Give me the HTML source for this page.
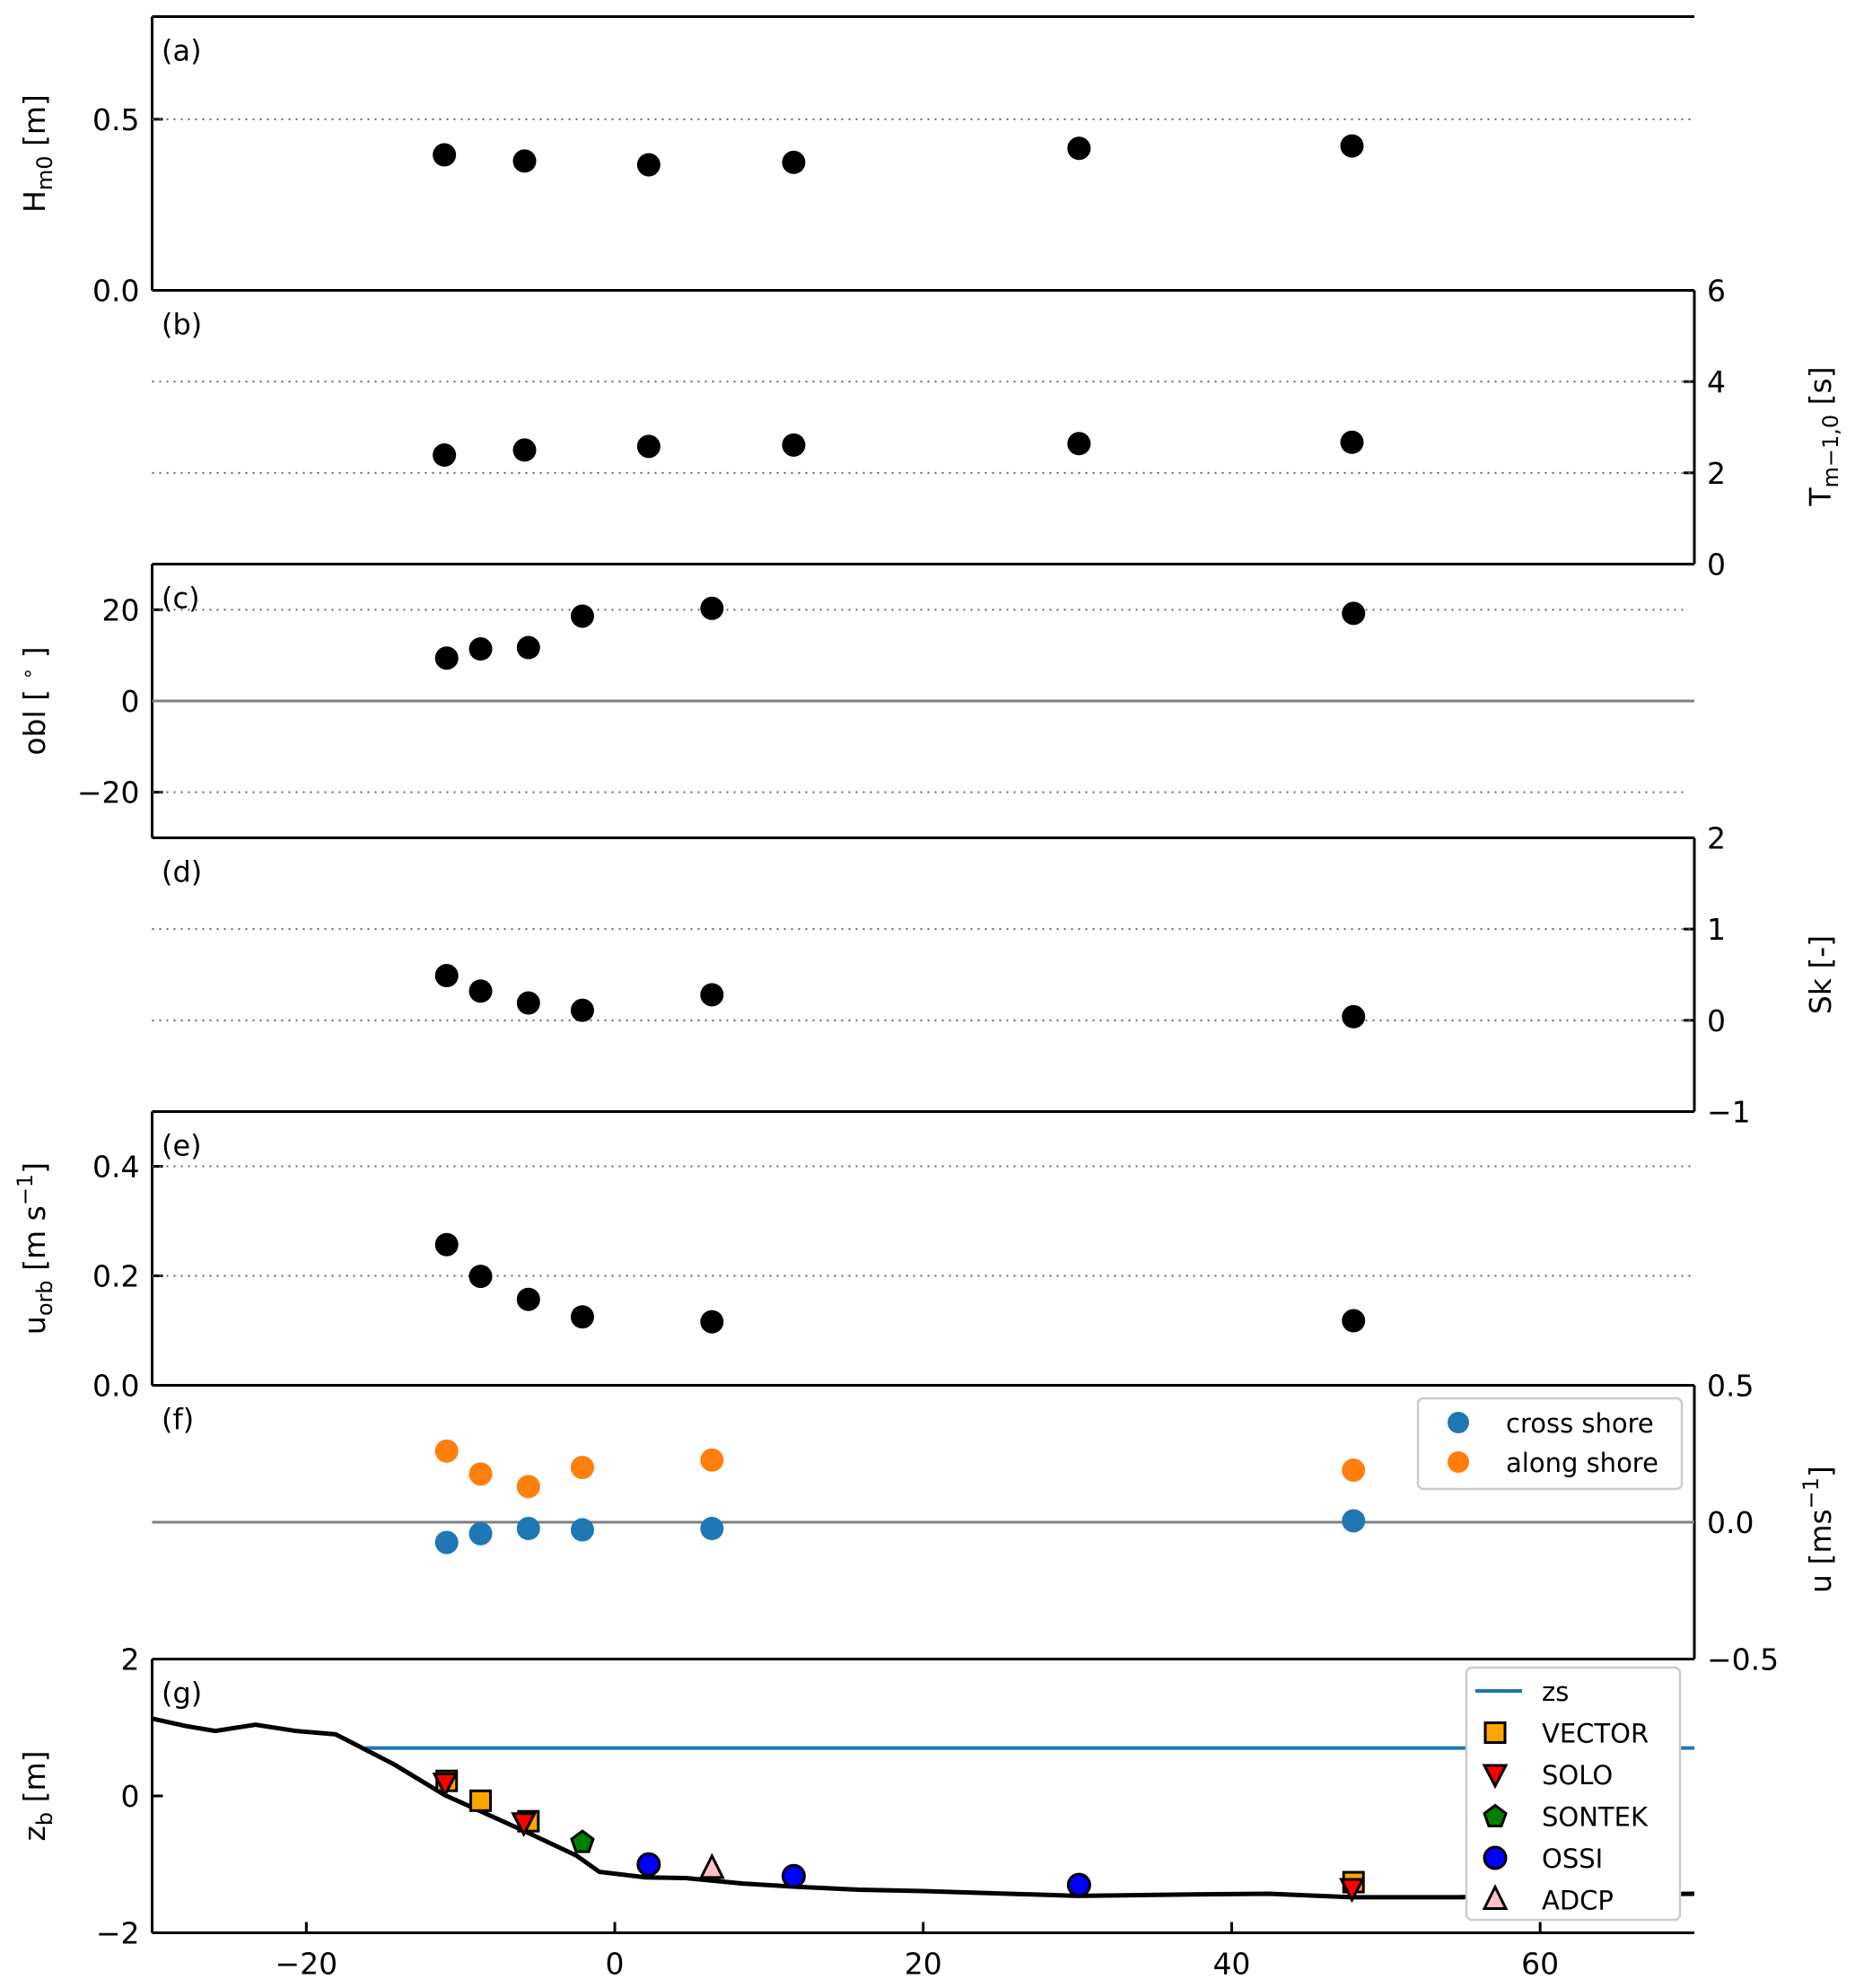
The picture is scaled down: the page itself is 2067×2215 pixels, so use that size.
<!DOCTYPE html>
<html><head><meta charset="utf-8"><style>
html,body{margin:0;padding:0;background:#fff;}
svg{display:block;font-family:"DejaVu Sans","Liberation Sans",sans-serif;}
</style></head><body>
<svg id="fig" width="2067" height="2215" viewBox="0 0 2067 2215" xmlns="http://www.w3.org/2000/svg"></svg>
<script>
// ---- data ----
const xWave = [-11.05, -5.85, 2.2, 11.6, 30.1, 47.8];
const hm0 = [0.396, 0.378, 0.367, 0.374, 0.415, 0.422];
const tm10 = [2.39, 2.5, 2.58, 2.61, 2.64, 2.67];
const xVel = [-10.9, -8.7, -5.6, -2.1, 6.3, 47.9];
const obl = [9.4, 11.4, 11.7, 18.6, 20.3, 19.2];
const skew = [0.49, 0.32, 0.19, 0.11, 0.28, 0.04];
const uorb = [0.257, 0.199, 0.157, 0.125, 0.116, 0.118];
const uCross = [-0.074, -0.042, -0.023, -0.028, -0.023, 0.005];
const uAlong = [0.26, 0.176, 0.13, 0.2, 0.227, 0.19];
const bedX = [-30,-27.8,-25.9,-23.3,-20.7,-18.1,-14.3,-11.0,-5.8,-2.5,-1.0,2.0,4.6,8.3,12,15.8,20,30,37.4,42.4,47.8,54.7,60,65,70];
const bedZ = [1.13,1.02,0.95,1.04,0.95,0.9,0.46,0.01,-0.52,-0.87,-1.11,-1.19,-1.2,-1.28,-1.33,-1.37,-1.39,-1.46,-1.44,-1.43,-1.48,-1.48,-1.46,-1.44,-1.43];
const zsLevel = 0.7, zsStart = -16.2;
const vectorX = [-10.9, -8.7, -5.6, 47.9], vectorZ = [0.22, -0.07, -0.37, -1.26];
const soloX = [-11, -5.9, 47.8], soloZ = [0.19, -0.39, -1.35];
const sontekX = [-2.1], sontekZ = [-0.67];
const ossiX = [2.2, 11.6, 30.1], ossiZ = [-1.0, -1.17, -1.3];
const adcpX = [6.3], adcpZ = [-1.06];
const xTicks = [-20, 0, 20, 40, 60];

// ---- layout ----
const NS = "http://www.w3.org/2000/svg";
const svg = document.getElementById('fig');
const L = 169.5, R = 1888, H = 305, T0 = 18.5;
const X0 = -30, X1 = 70;
const sx = v => L + (v - X0) / (X1 - X0) * (R - L);
function el(tag, attrs, parent, text) {
  const e = document.createElementNS(NS, tag);
  for (const k in attrs) e.setAttribute(k, attrs[k]);
  if (text !== undefined) e.textContent = text;
  (parent || svg).appendChild(e);
  return e;
}
function panel(i, ymin, ymax, side, ticks, tickLabels, letter, name) {
  const top = T0 + i * H, bot = top + H;
  const g = el('g', {});
  
  
  const sy = v => bot - (v - ymin) / (ymax - ymin) * H;
  el('line', {x1: L, x2: R, y1: top, y2: top, stroke: '#000', 'stroke-width': 3}, g);
  el('line', {x1: L, x2: R, y1: bot, y2: bot, stroke: '#000', 'stroke-width': 3}, g);
  const sxp = side === 'left' ? L : R;
  el('line', {x1: sxp, x2: sxp, y1: top, y2: bot, stroke: '#000', 'stroke-width': 3}, g);
  ticks.forEach((t, k) => {
    const y = sy(t);
    const dir = side === 'left' ? 1 : -1;
    el('line', {x1: sxp, x2: sxp + dir * 12, y1: y, y2: y, stroke: '#000', 'stroke-width': 3}, g);
    const tx = el('text', {x: side === 'left' ? L - 14 : R + 14, y: y + 12, 'font-size': 33,
      'text-anchor': side === 'left' ? 'end' : 'start'}, g, tickLabels[k]);
    
    
  });
  const lt = el('text', {x: 180, y: top + 49, 'font-size': 32}, g, letter);
  
  
  return {g, sy, top, bot};
}
function hline(p, v, dotted, x2) {
  el('line', {x1: L, x2: x2 || R, y1: p.sy(v), y2: p.sy(v), stroke: dotted ? '#666' : '#808080',
    'stroke-width': dotted ? 2 : 3, 'stroke-dasharray': dotted ? '2,6' : 'none'}, p.g);
}
function dots(p, xs, ys, color, r, nm) {
  xs.forEach((x, k) => {
    const c = el('circle', {cx: sx(x), cy: p.sy(ys[k]), r: r, fill: color}, p.g);
    
    
  });
}
function ylabel(x, y, html, nm) {
  const t = el('text', {x: 0, y: 0, 'font-size': 33, 'text-anchor': 'middle',
    transform: `translate(${x},${y}) rotate(-90)`});
  t.innerHTML = html;
  
  
}

// (a)
const pa = panel(0, 0, 0.8, 'left', [0, 0.5], ['0.0', '0.5'], '(a)', 'panel-a-hm0');
hline(pa, 0.5, true);
dots(pa, xWave, hm0, '#000', 13, 'hm0-point');
ylabel(50, pa.top + H / 2, 'H<tspan font-size="24" dy="8">m0</tspan><tspan dy="-8"> [m]</tspan>', 'y-axis-title-hm0');
// (b)
const pb = panel(1, 0, 6, 'right', [0, 2, 4, 6], ['0', '2', '4', '6'], '(b)', 'panel-b-tm10');
hline(pb, 2, true); hline(pb, 4, true);
dots(pb, xWave, tm10, '#000', 13, 'tm10-point');
ylabel(2040, pb.top + H / 2 + 10, 'T<tspan font-size="24" dy="8">m−1,0</tspan><tspan dy="-8"> [s]</tspan>', 'y-axis-title-tm10');
// (c)
const pc = panel(2, -30, 30, 'left', [-20, 0, 20], ['−20', '0', '20'], '(c)', 'panel-c-obliquity');
hline(pc, 20, true, R - 8); hline(pc, -20, true, R - 8); hline(pc, 0, false);
dots(pc, xVel, obl, '#000', 13, 'obliquity-point');
ylabel(50, pc.top + H / 2, 'obl [ <tspan font-size="22" dy="-12">∘</tspan><tspan dy="12"> ]</tspan>', 'y-axis-title-obl');
// (d)
const pd = panel(3, -1, 2, 'right', [-1, 0, 1, 2], ['−1', '0', '1', '2'], '(d)', 'panel-d-skewness');
hline(pd, 0, true); hline(pd, 1, true);
dots(pd, xVel, skew, '#000', 13, 'skewness-point');
ylabel(2040, pd.top + H / 2, 'Sk [-]', 'y-axis-title-sk');
// (e)
const pe = panel(4, 0, 0.5, 'left', [0, 0.2, 0.4], ['0.0', '0.2', '0.4'], '(e)', 'panel-e-uorb');
hline(pe, 0.2, true); hline(pe, 0.4, true);
dots(pe, xVel, uorb, '#000', 13, 'uorb-point');
ylabel(50, pe.top + H / 2, 'u<tspan font-size="24" dy="8">orb</tspan><tspan dy="-8"> [m s</tspan><tspan font-size="24" dy="-14">−1</tspan><tspan dy="14">]</tspan>', 'y-axis-title-uorb');
// (f)
const pf = panel(5, -0.5, 0.5, 'right', [-0.5, 0, 0.5], ['−0.5', '0.0', '0.5'], '(f)', 'panel-f-mean-current');
hline(pf, 0, false);
dots(pf, xVel, uCross, '#1f77b4', 13, 'cross-shore-point');
dots(pf, xVel, uAlong, '#ff7f0e', 13, 'along-shore-point');
ylabel(2040, pf.top + H / 2 + 8, 'u [ms<tspan font-size="24" dy="-14">−1</tspan><tspan dy="14">]</tspan>', 'y-axis-title-u');
// legend f
(function(){
  const g = el('g', {});
  
  
  el('rect', {x: 1580, y: 1558, width: 294, height: 101, rx: 6, fill: '#fff', stroke: '#ccc', 'stroke-width': 2.5}, g);
  el('circle', {cx: 1625, cy: 1585, r: 12, fill: '#1f77b4'}, g);
  el('circle', {cx: 1625, cy: 1629, r: 12, fill: '#ff7f0e'}, g);
  el('text', {x: 1678, y: 1596, 'font-size': 29}, g, 'cross shore');
  el('text', {x: 1678, y: 1640, 'font-size': 29}, g, 'along shore');
})();
// (g)
const pg = panel(6, -2, 2, 'left', [-2, 0, 2], ['−2', '0', '2'], '(g)', 'panel-g-bathymetry');
ylabel(50, pg.top + H / 2, 'z<tspan font-size="24" dy="8">b</tspan><tspan dy="-8"> [m]</tspan>', 'y-axis-title-zb');
xTicks.forEach(t => {
  el('line', {x1: sx(t), x2: sx(t), y1: pg.bot, y2: pg.bot - 12, stroke: '#000', 'stroke-width': 3}, pg.g);
  const tx = el('text', {x: sx(t), y: pg.bot + 46, 'font-size': 33, 'text-anchor': 'middle'}, pg.g, t < 0 ? '−' + (-t) : String(t));
  
  
});
const zs = el('line', {x1: sx(zsStart), x2: R, y1: pg.sy(zsLevel), y2: pg.sy(zsLevel), stroke: '#1f77b4', 'stroke-width': 4}, pg.g);


const bed = el('polyline', {points: bedX.map((x, k) => sx(x) + ',' + pg.sy(bedZ[k])).join(' '), fill: 'none', stroke: '#000', 'stroke-width': 5}, pg.g);


function marker(type, cx, cy, parent) {
  let e;
  if (type === 'sq') e = el('rect', {x: cx - 11, y: cy - 11, width: 22, height: 22, fill: 'orange', stroke: '#000', 'stroke-width': 3}, parent);
  else if (type === 'tdown') e = el('polygon', {points: `${cx-12},${cy-10} ${cx+12},${cy-10} ${cx},${cy+13}`, fill: 'red', stroke: '#000', 'stroke-width': 3}, parent);
  else if (type === 'tup') e = el('polygon', {points: `${cx-12},${cy+10} ${cx+12},${cy+10} ${cx},${cy-14}`, fill: 'pink', stroke: '#000', 'stroke-width': 3}, parent);
  else if (type === 'pent') e = el('polygon', {points: `${cx},${cy-12} ${cx+12},${cy-3} ${cx+7},${cy+11} ${cx-7},${cy+11} ${cx-12},${cy-3}`, fill: 'green', stroke: '#000', 'stroke-width': 3}, parent);
  else e = el('circle', {cx: cx, cy: cy, r: 12, fill: 'blue', stroke: '#000', 'stroke-width': 3}, parent);
  return e;
}
vectorX.forEach((x, k) => { const m = marker('sq', sx(x), pg.sy(vectorZ[k]), pg.g);   });
soloX.forEach((x, k) => { const m = marker('tdown', sx(x), pg.sy(soloZ[k]), pg.g);   });
sontekX.forEach((x, k) => { const m = marker('pent', sx(x), pg.sy(sontekZ[k]), pg.g);   });
ossiX.forEach((x, k) => { const m = marker('circ', sx(x), pg.sy(ossiZ[k]), pg.g);   });
adcpX.forEach((x, k) => { const m = marker('tup', sx(x), pg.sy(adcpZ[k]), pg.g);   });
// legend g
(function(){
  const g = el('g', {});
  
  
  el('rect', {x: 1634, y: 1858, width: 238, height: 281, rx: 6, fill: '#fff', stroke: '#ccc', 'stroke-width': 2.5}, g);
  const names = ['zs', 'VECTOR', 'SOLO', 'SONTEK', 'OSSI', 'ADCP'];
  const types = ['line', 'sq', 'tdown', 'pent', 'circ', 'tup'];
  names.forEach((n, k) => {
    const y = 1884 + k * 46.5;
    if (types[k] === 'line') el('line', {x1: 1644, x2: 1696, y1: y, y2: y, stroke: '#1f77b4', 'stroke-width': 4}, g);
    else marker(types[k], 1666, y, g);
    el('text', {x: 1718, y: y + 11, 'font-size': 29}, g, n);
  });
})();
</script>
</body></html>
